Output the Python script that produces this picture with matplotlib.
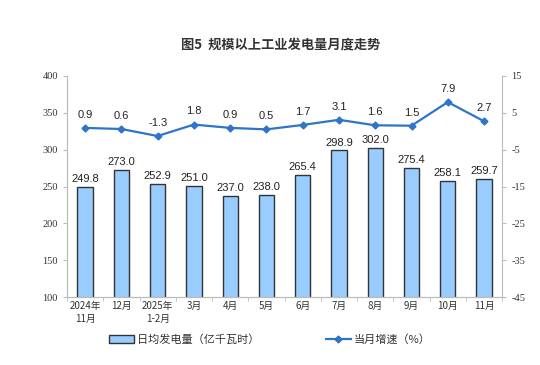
import matplotlib.pyplot as plt
import numpy as np

plt.rcParams['font.family'] = ['Noto Sans CJK SC', 'DejaVu Sans']

months = ["2024年\n11月", "12月", "2025年\n1-2月", "3月", "4月", "5月",
          "6月", "7月", "8月", "9月", "10月", "11月"]
daily_output = [249.8, 273.0, 252.9, 251.0, 237.0, 238.0,
                265.4, 298.9, 302.0, 275.4, 258.1, 259.7]
growth = [0.9, 0.6, -1.3, 1.8, 0.9, 0.5, 1.7, 3.1, 1.6, 1.5, 7.9, 2.7]
left_ticks = list(range(100, 401, 50))
right_ticks = list(range(-45, 16, 10))

fig = plt.figure(figsize=(5.4, 3.65), dpi=100)
ax = fig.add_axes([0.124, 0.186, 0.806, 0.606])
ax2 = ax.twinx()

x = np.arange(len(months))
ax.bar(x, daily_output, width=0.42, bottom=0, color="#99ccff",
       edgecolor="#333333", linewidth=1.0, label="日均发电量（亿千瓦时）", zorder=2)
for xi, v in zip(x, daily_output):
    ax.text(xi, v + 4, f"{v:.1f}", ha="center", va="bottom", fontsize=8,
            family="Liberation Sans", color="#222222")

ax.set_ylim(100, 400)
ax.set_yticks(left_ticks, [str(t) for t in left_ticks],
              fontfamily="Liberation Serif", fontsize=7.5, color="#333333")
ax.set_xlim(-0.45, len(months) - 0.55)
ax.set_xticks(x, months, fontsize=7, color="#333333", linespacing=1.3)
ax.set_xticks(np.arange(-0.5, len(months), 1), minor=True)
ax.tick_params(axis="x", which="major", length=0, pad=3)
ax.tick_params(axis="x", which="minor", length=3, color="#bbbbbb")
ax.tick_params(axis="y", length=3, color="#bbbbbb")

ax2.plot(x, growth, color="#2e75c8", linewidth=1.6, marker="D", markersize=3.5,
         label="当月增速（%）", zorder=3)
for xi, v in zip(x, growth):
    ax2.text(xi, v + 2.2, f"{v:.1f}", ha="center", va="bottom", fontsize=8,
             family="Liberation Sans", color="#222222")
ax2.set_ylim(-45, 15)
ax2.set_yticks(right_ticks, [str(t) for t in right_ticks],
               fontfamily="Liberation Serif", fontsize=7.5, color="#333333")
ax2.tick_params(axis="y", length=3, color="#bbbbbb")

for a in (ax, ax2):
    a.spines["top"].set_visible(False)
    for s in ("left", "right", "bottom"):
        a.spines[s].set_color("#bbbbbb")
        a.spines[s].set_linewidth(0.8)
ax.spines["right"].set_visible(False)

fig.text(0.52, 0.875, "图5  规模以上工业发电量月度走势", ha="center", va="center",
         fontsize=9.5, color="#333333", fontweight="bold")

h1, l1 = ax.get_legend_handles_labels()
h2, l2 = ax2.get_legend_handles_labels()
fig.legend(h1 + h2, l1 + l2, loc="center", bbox_to_anchor=(0.5, 0.07), ncol=2,
           frameon=False, fontsize=8, columnspacing=6, handlelength=2.2,
           handletextpad=0.3, labelcolor="#333333")

fig.savefig("out.png", dpi=100)
